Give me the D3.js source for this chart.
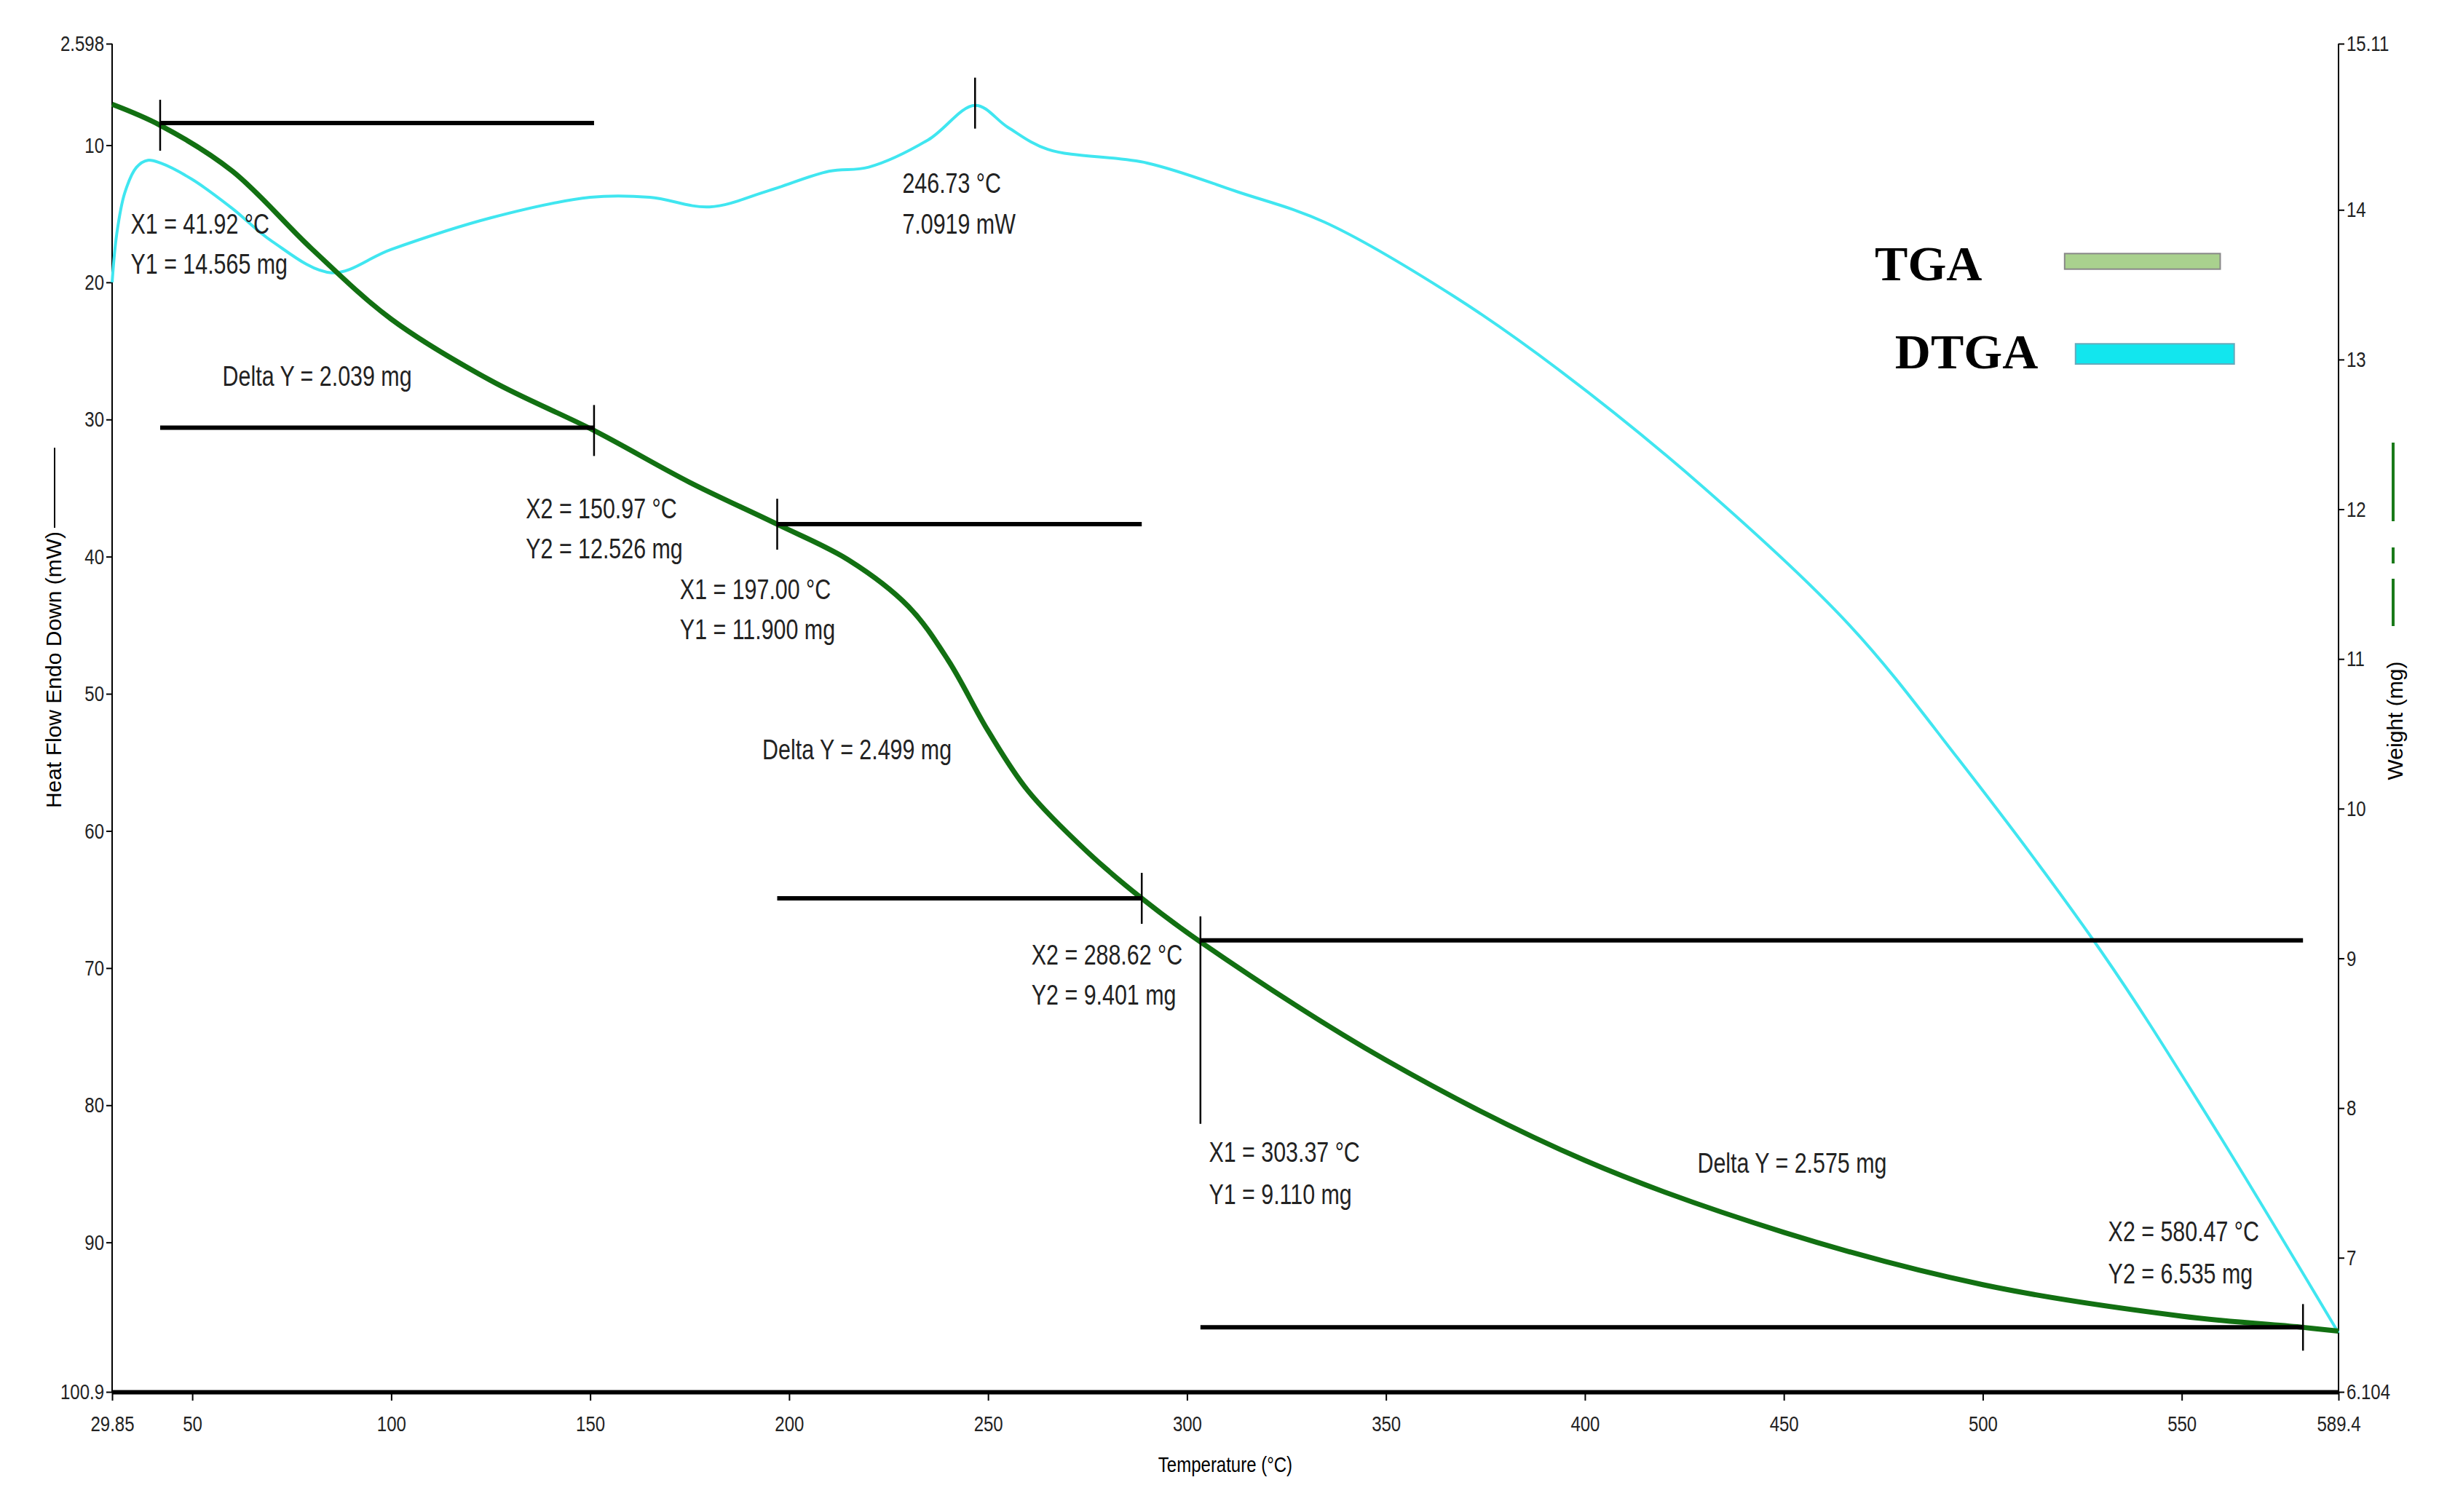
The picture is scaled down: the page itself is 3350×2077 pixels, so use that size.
<!DOCTYPE html>
<html><head><meta charset="utf-8">
<script src="https://cdn.jsdelivr.net/npm/d3@7/dist/d3.min.js"></script>
<style>body{margin:0;background:#fff}</style>
</head><body><svg id="c" width="3350" height="2077"></svg>
<script>
// Data
const tgaTemp   = [29.85,41.92,60,80,100,125,150.97,175,197,215,230,240,250,260,275,288.62,303.37,350,400,450,500,550,580.47,589.4];
const tgaWeight = [14.705,14.565,14.26,13.74,13.27,12.86,12.526,12.18,11.90,11.66,11.35,10.99,10.52,10.12,9.71,9.401,9.110,8.32,7.65,7.17,6.82,6.61,6.535,6.51];
const dtgaTemp  = [29.85,31,33,36,38.8,42,50,60,70,85,100,125,150,165,180,195,210,220,235,246.73,255,265,290,312.7,334.5,367,394,430,466.5,493.7,529.8,556.9,589.4];
const dtgaHeat  = [20.0,16.5,13.5,11.6,11.1,11.3,12.5,14.6,17.0,19.3,17.6,15.3,13.8,13.8,14.5,13.3,11.9,11.6,9.6,7.0919,8.7,10.3,11.3,13.4,15.6,21.0,26.5,35.0,45.0,54.7,68.8,81.0,96.6];
const xTicks = [29.85,50,100,150,200,250,300,350,400,450,500,550,589.4];
const leftTicks = [2.598,10,20,30,40,50,60,70,80,90,100.9];
const rightTicks = [15.11,14,13,12,11,10,9,8,7,6.104];
// annotation segments: [t1,t2,weight]
const hSegs = [[41.92,150.97,14.58],[41.92,150.97,12.545],[197.0,288.62,11.90],[197.0,288.62,9.401],[303.37,580.47,9.12],[303.37,580.47,6.535]];
const labels = [
 ["X1 = 41.92 °C",84,150],["Y1 = 14.565 mg",84,176],["Delta Y = 2.039 mg",143,248],
 ["X2 = 150.97 °C",338,333],["Y2 = 12.526 mg",338,359],
 ["X1 = 197.00 °C",437,385],["Y1 = 11.900 mg",437,411],["Delta Y = 2.499 mg",490,488],
 ["X2 = 288.62 °C",663,620],["Y2 = 9.401 mg",663,646],
 ["X1 = 303.37 °C",777,747],["Y1 = 9.110 mg",777,774],["Delta Y = 2.575 mg",1091,754],
 ["X2 = 580.47 °C",1355,798],["Y2 = 6.535 mg",1355,825],
 ["246.73 °C",580,124],["7.0919 mW",580,150]];
const K = 2.137;
const L=154,R=3212,T=60,B=1912;
const svg=d3.select("#c");
const x=d3.scaleLinear().domain([29.85,589.4]).range([L,R]);
const yL=d3.scaleLinear().domain([2.598,100.9]).range([T,B]);
const yR=d3.scaleLinear().domain([15.11,6.104]).range([T,B]);
const F='"Liberation Sans",Arial,sans-serif';
const SX=0.8;

function condense(sel){sel.each(function(){const t=d3.select(this);const xx=+t.attr("x")||0;const tr=t.attr("transform")||"";t.attr("transform",tr+` translate(${xx*(1-SX)},0) scale(${SX},1)`);});}

// axes
const ax=svg.append("g").attr("transform",`translate(0,${B})`).call(d3.axisBottom(x).tickValues(xTicks).tickFormat(d=>d).tickSize(12).tickSizeOuter(0));
ax.select(".domain").attr("stroke-width",6);
const al=svg.append("g").attr("transform",`translate(${L},0)`).call(d3.axisLeft(yL).tickValues(leftTicks).tickFormat(d=>d).tickSize(8).tickSizeOuter(0));
const ar=svg.append("g").attr("transform",`translate(${R},0)`).call(d3.axisRight(yR).tickValues(rightTicks).tickFormat(d=>d).tickSize(8).tickSizeOuter(0));
[ax,al,ar].forEach(g=>{g.selectAll("text").attr("font-family",F).attr("font-size",30).attr("fill","#222");g.selectAll("line").attr("stroke-width",2);});
ax.selectAll("text").attr("dy","1.3em").attr("x",0).attr("transform",`scale(${SX},1)`);
al.selectAll("text").attr("text-anchor","end").attr("transform",function(){const xx=+d3.select(this).attr("x");return `translate(${xx*(1-SX)},0) scale(${SX},1)`;});
ar.selectAll("text").attr("transform",function(){const xx=+d3.select(this).attr("x");return `translate(${xx*(1-SX)},0) scale(${SX},1)`;});
svg.append("line").attr("x1",L).attr("x2",L).attr("y1",T).attr("y2",B).attr("stroke","#000").attr("stroke-width",2);
svg.append("line").attr("x1",R).attr("x2",R).attr("y1",T).attr("y2",B).attr("stroke","#000").attr("stroke-width",2);

svg.append("text").attr("x",(L+R)/2).attr("y",2022).attr("text-anchor","middle").attr("font-family",F).attr("font-size",30).call(condense).text("Temperature (°C)");
svg.append("text").attr("transform",`translate(84,920) rotate(-90)`).attr("text-anchor","middle").attr("font-family",F).attr("font-size",30).text("Heat Flow Endo Down (mW)");
svg.append("line").attr("x1",75).attr("x2",75).attr("y1",615).attr("y2",725).attr("stroke","#000").attr("stroke-width",2);
svg.append("text").attr("transform",`translate(3300,990) rotate(-90)`).attr("text-anchor","middle").attr("font-family",F).attr("font-size",30).text("Weight (mg)");
[[608,716],[752,774],[795,860]].forEach(s=>svg.append("line").attr("x1",3287).attr("x2",3287).attr("y1",s[0]).attr("y2",s[1]).attr("stroke","#1a7a1a").attr("stroke-width",4));

// DTGA
svg.append("path").datum(dtgaTemp.map((t,i)=>[t,dtgaHeat[i]])).attr("fill","none").attr("stroke","#40e6f0").attr("stroke-width",4)
 .attr("d",d3.line().x(d=>x(d[0])).y(d=>yL(d[1])).curve(d3.curveCatmullRom.alpha(0.5)));
// TGA
svg.append("path").datum(tgaTemp.map((t,i)=>[t,tgaWeight[i]])).attr("fill","none").attr("stroke","#127012").attr("stroke-width",7)
 .attr("d",d3.line().x(d=>x(d[0])).y(d=>yR(d[1])).curve(d3.curveCatmullRom.alpha(0.5)));

// annotation lines
hSegs.forEach(s=>svg.append("line").attr("x1",x(s[0])).attr("x2",x(s[1])).attr("y1",yR(s[2])).attr("y2",yR(s[2])).attr("stroke","#000").attr("stroke-width",6));
const vt=[[41.92,14.565,35,35],[150.97,12.526,35,35],[197.0,11.9,35,35],[288.62,9.401,35,35],[303.37,9.11,35,250],[580.47,6.535,32,32]];
vt.forEach(v=>svg.append("line").attr("x1",x(v[0])).attr("x2",x(v[0])).attr("y1",yR(v[1])-v[2]).attr("y2",yR(v[1])+v[3]).attr("stroke","#000").attr("stroke-width",2.5));
svg.append("line").attr("x1",x(246.73)).attr("x2",x(246.73)).attr("y1",yL(7.0919)-38).attr("y2",yL(7.0919)+32).attr("stroke","#000").attr("stroke-width",2.5);

labels.forEach(l=>svg.append("text").attr("x",l[1]*K).attr("y",l[2]*K).attr("font-family",F).attr("font-size",38).attr("fill","#222").call(condense).text(l[0]));

// legend
svg.append("text").attr("x",1205*K).attr("y",180*K).attr("font-family",'"Liberation Serif",serif').attr("font-weight","bold").attr("font-size",68).text("TGA");
svg.append("rect").attr("x",1327*K).attr("y",163*K).attr("width",100*K).attr("height",10*K).attr("fill","#a9d18e").attr("stroke","#888").attr("stroke-width",2);
svg.append("text").attr("x",1218*K).attr("y",237*K).attr("font-family",'"Liberation Serif",serif').attr("font-weight","bold").attr("font-size",68).text("DTGA");
svg.append("rect").attr("x",1334*K).attr("y",221*K).attr("width",102*K).attr("height",13*K).attr("fill","#12e6ee").attr("stroke","#6ab").attr("stroke-width",2);
</script></body></html>
